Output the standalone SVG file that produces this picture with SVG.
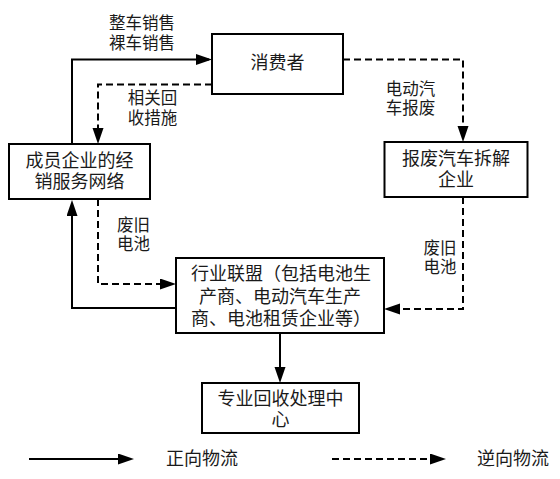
<svg xmlns="http://www.w3.org/2000/svg" width="560" height="479" viewBox="0 0 560 479">
<style>
.box{fill:#fff;stroke:#000;stroke-width:2}
.t{font-family:"Liberation Sans","Noto Sans CJK SC",sans-serif;font-size:18px;fill:#1a1a1a;text-anchor:middle;dominant-baseline:central}
.l{font-family:"Liberation Sans","Noto Sans CJK SC",sans-serif;font-size:16.5px;fill:#1a1a1a;text-anchor:middle;dominant-baseline:central}
.lg{font-family:"Liberation Sans","Noto Sans CJK SC",sans-serif;font-size:18px;fill:#1a1a1a;dominant-baseline:central}
.s{fill:none;stroke:#000;stroke-width:2}
.d{fill:none;stroke:#000;stroke-width:2;stroke-dasharray:7 4}
</style>
<defs>
<marker id="ah" markerUnits="userSpaceOnUse" markerWidth="16" markerHeight="12" refX="13" refY="5.5" orient="auto">
<path d="M0,0 L16,5.5 L0,11 z" fill="#000" stroke="none"/>
</marker>
</defs>
<rect width="560" height="479" fill="#fff"/>
<g id="connectors">
<path class="s" d="M72,144 V59.5 H209" stroke-width="2.5" marker-end="url(#ah)"/>
<path class="d" d="M343,59.5 H463 V139" marker-end="url(#ah)"/>
<path class="d" d="M212,84.5 H98 V141" marker-end="url(#ah)"/>
<path class="d" d="M98,199 V284 H173" marker-end="url(#ah)"/>
<path class="d" d="M463,197 V309 H387" marker-end="url(#ah)"/>
<path class="s" d="M176,308 H72 V203" marker-end="url(#ah)"/>
<path class="s" d="M280,333 V380" marker-end="url(#ah)"/>
<path class="s" d="M29,459 H131" marker-end="url(#ah)"/>
<path class="d" d="M332,459 H443" stroke-dasharray="7 6.5" marker-end="url(#ah)"/>
<text class="l"><tspan x="142" y="23">整车销售</tspan><tspan x="142" y="42.5">裸车销售</tspan></text>
<text class="l"><tspan x="152.5" y="98">相关回</tspan><tspan x="152.5" y="117.5">收措施</tspan></text>
<text class="l"><tspan x="410.5" y="88.5">电动汽</tspan><tspan x="410.5" y="108">车报废</tspan></text>
<text class="l"><tspan x="133.5" y="224.5">废旧</tspan><tspan x="133.5" y="244">电池</tspan></text>
<text class="l"><tspan x="440" y="247.5">废旧</tspan><tspan x="440" y="267">电池</tspan></text>
</g>
<g id="consumer">
<rect class="box" x="212" y="34" width="131" height="60"/>
<text class="t" x="277.5" y="63">消费者</text>
</g>
<g id="dealer">
<rect class="box" x="9" y="144" width="141" height="55"/>
<text class="t"><tspan x="79.5" y="160.5">成员企业的经</tspan><tspan x="79.5" y="181.5">销服务网络</tspan></text>
</g>
<g id="scrap">
<rect class="box" x="384.5" y="142" width="143" height="55"/>
<text class="t"><tspan x="456" y="158.5">报废汽车拆解</tspan><tspan x="456" y="179.5">企业</tspan></text>
</g>
<g id="alliance">
<rect class="box" x="176" y="258" width="208" height="75"/>
<text class="t"><tspan x="281" y="274">行业联盟（包括电池生</tspan><tspan x="280" y="296.5">产商、电动汽车生产</tspan><tspan x="281" y="318.5">商、电池租赁企业等）</tspan></text>
</g>
<g id="recycle">
<rect class="box" x="202" y="383" width="157" height="50"/>
<text class="t"><tspan x="280.5" y="398.5">专业回收处理中</tspan><tspan x="280.5" y="420">心</tspan></text>
</g>
<g id="legend">
<text class="lg" x="166" y="459">正向物流</text>
<text class="lg" x="477" y="459">逆向物流</text>
</g>
</svg>
